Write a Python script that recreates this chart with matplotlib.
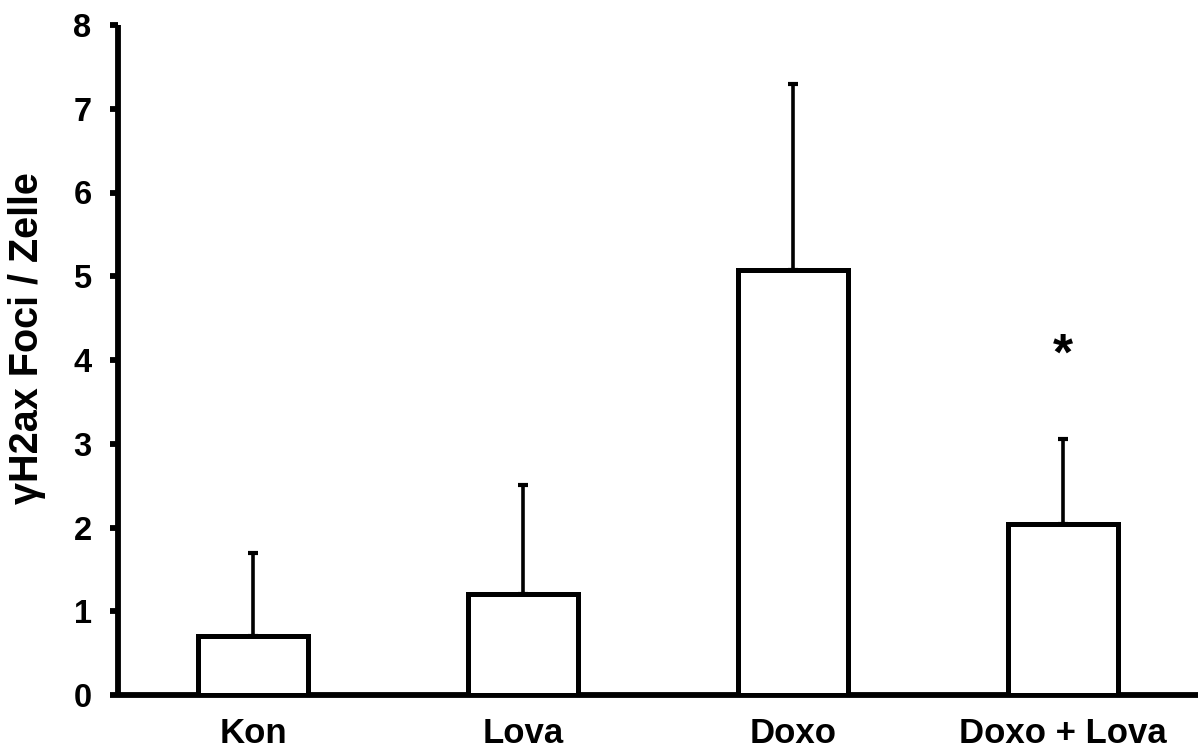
import matplotlib
matplotlib.use("Agg")
import matplotlib.pyplot as plt

categories = ["Kon", "Lova", "Doxo", "Doxo + Lova"]
means = [0.70, 1.21, 5.07, 2.04]
errors = [1.00, 1.30, 2.23, 1.02]
yticks = [0, 1, 2, 3, 4, 5, 6, 7, 8]
star_label = "*"
star_index = 3
star_y = 4.05

plt.rcParams['font.family'] = ['Liberation Sans', 'DejaVu Sans']
plt.rcParams['font.weight'] = 'bold'

W, H = 1198, 749
fig = plt.figure(figsize=(W / 100, H / 100), dpi=100)
ax = fig.add_axes([118 / W, 54 / H, 1 - 118 / W, 670 / H])

x = list(range(len(categories)))
ax.bar(x, means, width=0.405, color='white', edgecolor='black', linewidth=3.6, zorder=3)
ax.errorbar(x, means, yerr=[[0] * len(errors), errors], fmt='none', ecolor='black',
            elinewidth=2.6, capsize=3.5, capthick=3, zorder=2)

ax.set_xlim(-0.5, 3.5)
ax.set_ylim(0, 8)
ax.set_yticks(yticks)
ax.set_yticklabels([str(t) for t in yticks], fontsize=23.5, fontweight='bold')
ax.set_xticks(x)
ax.set_xticklabels(categories, fontsize=25, fontweight='bold')

for s in ['top', 'right']:
    ax.spines[s].set_visible(False)
for s in ['left', 'bottom']:
    ax.spines[s].set_linewidth(4.2)
    ax.spines[s].set_capstyle('butt')

ax.tick_params(axis='y', direction='out', length=6, width=4.2, pad=13)
ax.tick_params(axis='x', length=0, pad=16)

ax.text(x[star_index], star_y, star_label, ha='center', va='center', fontsize=37, fontweight='bold')

fig.text(27 / W, 1 - 338 / H, "γH2ax Foci / Zelle", rotation=90, ha='center', va='center',
         fontsize=28.5, fontweight='bold')

fig.savefig("out.png", dpi=100)
